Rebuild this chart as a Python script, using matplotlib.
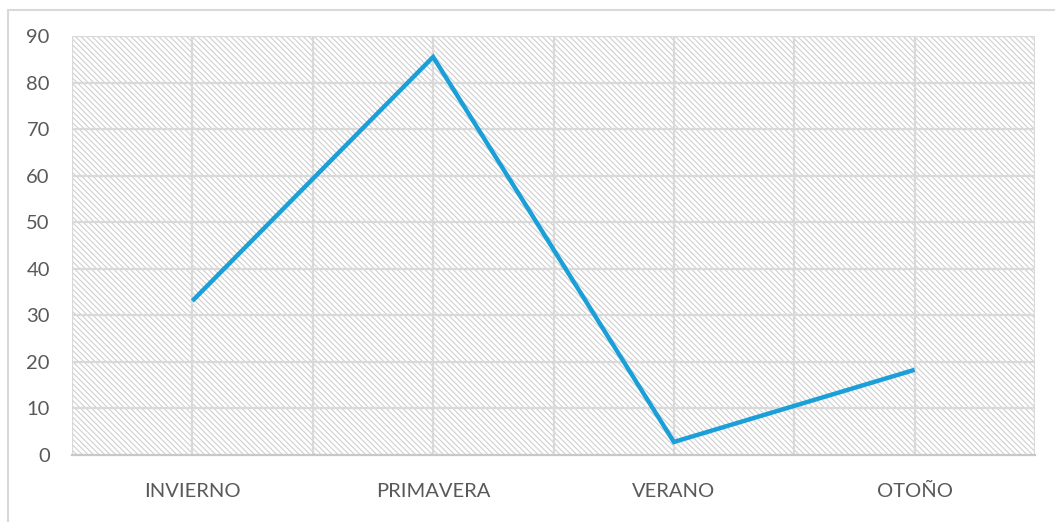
import matplotlib
matplotlib.use("Agg")
import matplotlib.pyplot as plt
from matplotlib.patches import Rectangle
import numpy as np

categories = ["INVIERNO", "PRIMAVERA", "VERANO", "OTOÑO"]
values = [33.1, 85.5, 2.8, 18.3]
y_ticks = [0, 10, 20, 30, 40, 50, 60, 70, 80, 90]

W, H = 1055, 522
fig = plt.figure(figsize=(W / 100, H / 100), dpi=100)
fig.patch.set_facecolor("white")

# outer chart border
fig.patches.append(Rectangle((8 / W, -0.05), 1.1, (H - 10) / H + 0.05,
                             transform=fig.transFigure, fill=False,
                             edgecolor="#d9d9d9", linewidth=1.5))

ax = fig.add_axes([72 / W, (H - 455) / H, (1035 - 72) / W, (455 - 36) / H])
ax.set_facecolor("white")

n = len(categories)
x = np.arange(n)
ax.set_xlim(-0.5, n - 0.5)
ax.set_ylim(0, 90)

plt.rcParams["hatch.linewidth"] = 0.8
plt.rcParams["hatch.color"] = "#cfcfcf"
ax.add_patch(Rectangle((0, 0), 1, 1, transform=ax.transAxes, facecolor="white",
                       edgecolor="#cfcfcf", hatch="\\" * 6, linewidth=0, zorder=0))

# gridlines: horizontal at ticks, vertical at category centres and boundaries
for yv in y_ticks[1:]:
    ax.axhline(yv, color="#d9d9d9", linewidth=1.6, zorder=1)
for xv in np.arange(-0.5, n, 0.5):
    ax.axvline(xv, color="#d9d9d9", linewidth=1.6, zorder=1)

ax.plot(x, values, color="#1b9fd8", linewidth=3.2, solid_joinstyle="miter",
        solid_capstyle="butt", zorder=3)

for s in ["top", "right", "left"]:
    ax.spines[s].set_visible(False)
ax.spines["bottom"].set_color("#c8c8c8")
ax.spines["bottom"].set_linewidth(1.6)

ax.set_yticks(y_ticks)
ax.set_xticks(x)
ax.set_xticklabels(categories)
ax.tick_params(axis="both", length=0, labelsize=14.5, labelcolor="#595959")
ax.tick_params(axis="x", pad=20)
ax.tick_params(axis="y", pad=16)
for lab in ax.get_xticklabels() + ax.get_yticklabels():
    lab.set_family(["Lato", "DejaVu Sans"])

fig.savefig("out.png", dpi=100, facecolor="white")
